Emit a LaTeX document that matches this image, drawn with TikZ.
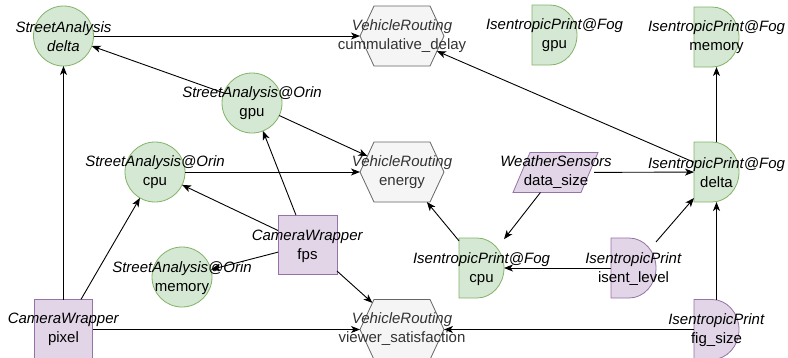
\documentclass[tikz,border=0pt]{standalone}
\usepackage{fontspec}
\setmainfont{Liberation Sans}
\usetikzlibrary{arrows.meta,shapes.geometric,shapes.symbols}
\definecolor{gfill}{HTML}{D5E8D4}
\definecolor{gline}{HTML}{82B366}
\definecolor{pfill}{HTML}{E1D5E7}
\definecolor{pline}{HTML}{9673A6}
\definecolor{hfill}{HTML}{F5F5F5}
\definecolor{hline}{HTML}{666666}
\definecolor{htext}{HTML}{333333}
% half-round "delay" outline laid over a named rectangular node
\newcommand\dshape[3]{%
  \draw[fill=#2, draw=#3, line width=0.8pt]
    (#1.north west) -- ++(18pt,0pt)
    arc[start angle=90, end angle=-90, x radius=27pt, y radius=30pt]
    -- (#1.south west) -- cycle;}
\begin{document}
\begin{tikzpicture}[x=1pt,y=1pt,
  every node/.style={inner sep=0pt, outer sep=0pt},
  gcircle/.style={circle, minimum size=60pt, fill=gfill, draw=gline, line width=0.8pt},
  pbox/.style={rectangle, fill=pfill, draw=pline, line width=0.8pt},
  dbox/.style={rectangle, minimum width=45pt, minimum height=60pt},
  hexa/.style={signal, signal to=west and east, signal pointer angle=130,
    minimum width=84pt, minimum height=60pt, fill=hfill, draw=hline, line width=0.8pt},
  lbl/.style={align=center, font=\fontsize{15}{19}\selectfont},
  hlbl/.style={lbl, text=htext},
  conn/.style={draw=black, line width=0.9pt, -{Stealth[length=9pt,width=7pt,inset=2.5pt]}},
]
\useasboundingbox[fill=white] (0,0) rectangle (788,-357);

% StreetAnalysis circles
\node[gcircle] (sadelta) at (63.5,-36) {};
\node[gcircle] (sagpu) at (252,-103) {};
\node[gcircle] (sacpu) at (155,-172) {};
\node[gcircle] (samem) at (182,-277) {};

% CameraWrapper boxes
\node[pbox, minimum width=59pt, minimum height=59pt] (fps) at (307.5,-244.5) {};
\node[pbox, minimum width=58pt, minimum height=60pt] (pixel) at (63.5,-329.5) {};

% VehicleRouting hexagons
\node[hexa] (cumm) at (402,-36) {};
\node[hexa] (energy) at (402,-172) {};
\node[hexa] (viewer) at (402,-329.5) {};

% WeatherSensors parallelogram
\node[rectangle, minimum width=76pt, minimum height=40pt] (data) at (556,-172.5) {};
\draw[fill=pfill, draw=pline, line width=0.8pt]
  ([xshift=-26pt]data.north) -- ([xshift=42pt]data.north)
  -- ([xshift=25pt]data.south) -- ([xshift=-43pt]data.south) -- cycle;

% IsentropicPrint delay shapes
\node[dbox] (fgpu) at (554.5,-35) {};
\node[dbox] (fmem) at (716.5,-37) {};
\node[dbox] (fdelta) at (716.5,-172) {};
\node[dbox] (fcpu) at (481.5,-268) {};
\node[dbox] (isent) at (633.5,-268) {};
\node[dbox] (figsize) at (716.5,-329.5) {};
\dshape{fgpu}{gfill}{gline}
\dshape{fmem}{gfill}{gline}
\dshape{fdelta}{gfill}{gline}
\dshape{fcpu}{gfill}{gline}
\dshape{isent}{pfill}{pline}
\dshape{figsize}{pfill}{pline}

% connectors
\draw[conn] (sadelta) -- (cumm);
\draw[conn] (sagpu) -- (sadelta);
\draw[conn] (sagpu) -- (energy);
\draw[conn] (sacpu) -- (energy);
\draw[conn] (fps) -- (sagpu);
\draw[conn] (fps) -- (sacpu);
\draw[conn] (fps) -- (samem);
\draw[conn] (fps) -- (viewer);
\draw[conn] (pixel) -- (sadelta);
\draw[conn] (pixel) -- (sacpu);
\draw[conn] (pixel) -- (viewer);
\draw[conn] (fdelta) -- (cumm);
\draw[conn] (fdelta) -- (fmem);
\draw[conn] (data) -- (fdelta);
\draw[conn] (data) -- (fcpu);
\draw[conn] (fcpu) -- (energy);
\draw[conn] (isent) -- (fcpu);
\draw[conn] (isent) -- (fdelta);
\draw[conn] (figsize) -- (fdelta);
\draw[conn] (figsize) -- (viewer);

% labels
\node[lbl] (t-sadelta) at (63.5,-37) {\textit{StreetAnalysis}\\\textit{delta}};
\node[lbl] (t-sagpu) at (252,-103.5) {\textit{StreetAnalysis@Orin}\\gpu};
\node[lbl] (t-sacpu) at (155,-172.5) {\textit{StreetAnalysis@Orin}\\cpu};
\node[lbl] (t-samem) at (182,-278.5) {\textit{StreetAnalysis@Orin}\\memory};
\node[lbl] (t-fps) at (307.5,-246) {\textit{CameraWrapper}\\fps};
\node[lbl] (t-pixel) at (63.5,-329.5) {\textit{CameraWrapper}\\pixel};
\node[hlbl] (t-cumm) at (402,-36.5) {\textit{VehicleRouting}\\cummulative\_delay};
\node[hlbl] (t-energy) at (402,-172) {\textit{VehicleRouting}\\energy};
\node[hlbl] (t-viewer) at (402,-329) {\textit{VehicleRouting}\\viewer\_satisfaction};
\node[lbl] (t-data) at (556,-172.5) {\textit{WeatherSensors}\\data\_size};
\node[lbl] (t-fgpu) at (554.5,-35) {\textit{IsentropicPrint@Fog}\\gpu};
\node[lbl] (t-fmem) at (716.5,-37) {\textit{IsentropicPrint@Fog}\\memory};
\node[lbl] (t-fdelta) at (716.5,-172.5) {\textit{IsentropicPrint@Fog}\\delta};
\node[lbl] (t-fcpu) at (481.5,-269.5) {\textit{IsentropicPrint@Fog}\\cpu};
\node[lbl] (t-isent) at (633.5,-269.5) {\textit{IsentropicPrint}\\isent\_level};
\node[lbl] (t-figsize) at (716.5,-330) {\textit{IsentropicPrint}\\fig\_size};
\end{tikzpicture}
\end{document}
